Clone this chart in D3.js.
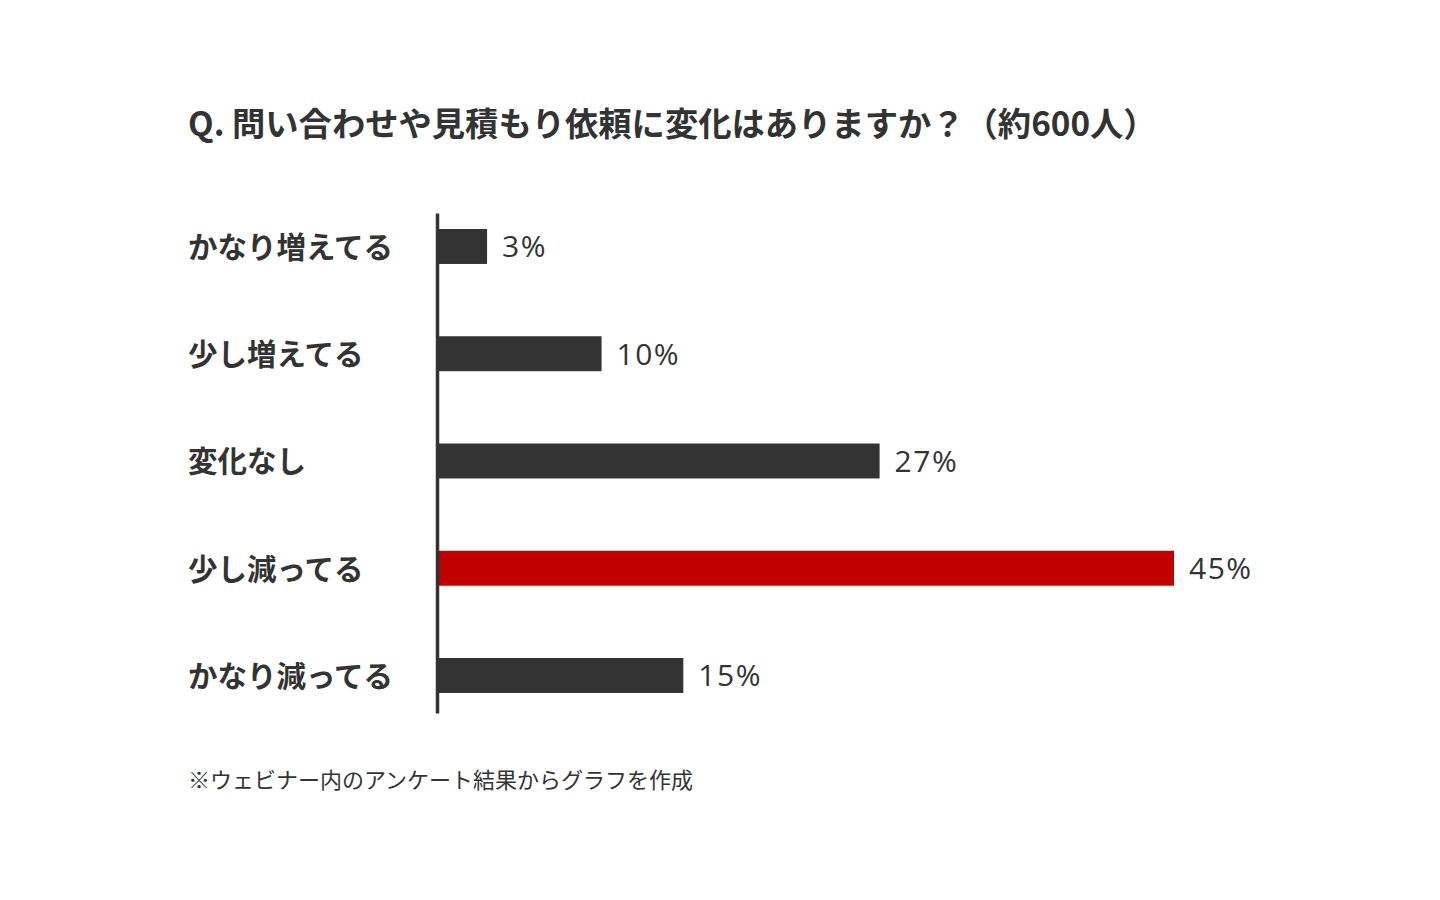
<!DOCTYPE html>
<html>
<head>
<meta charset="utf-8">
<script src="https://cdn.jsdelivr.net/npm/d3@7"></script>
<style>
  body { margin: 0; background: #fff; }
  svg { display: block; }
</style>
</head>
<body>
<div id="chart"></div>
<script>
// data
var title = "Q. 問い合わせや見積もり依頼に変化はありますか？（約600人）";
var categories = ["かなり増えてる", "少し増えてる", "変化なし", "少し減ってる", "かなり減ってる"];
var values = [3, 10, 27, 45, 15];
var highlight = "少し減ってる";
var note = "※ウェビナー内のアンケート結果からグラフを作成";

var W = 1440, H = 900;
var dark = "#333333", red = "#c00000";

var svg = d3.select("#chart").append("svg")
    .attr("width", W).attr("height", H);

var x = d3.scaleLinear().domain([0, 45]).range([438, 1174]);
var y = d3.scaleBand().domain(categories).range([213, 713])
    .paddingInner(0.674).paddingOuter(0.168).align(0.444);

// title
svg.append("text")
    .attr("x", 188).attr("y", 121)
    .attr("dominant-baseline", "central")
    .style("font-family", "'Noto Sans CJK JP', sans-serif")
    .style("font-weight", "bold")
    .style("font-size", "33.3px")
    .style("fill", dark)
    .text(title);

var data = categories.map(function (c, i) { return {cat: c, val: values[i]}; });

// bars
svg.selectAll("rect.bar").data(data).enter().append("rect")
    .attr("class", "bar")
    .attr("x", x(0))
    .attr("y", function (d) { return y(d.cat); })
    .attr("width", function (d) { return x(d.val) - x(0); })
    .attr("height", y.bandwidth())
    .style("fill", function (d) { return d.cat === highlight ? red : dark; });

// value labels
svg.selectAll("text.val").data(data).enter().append("text")
    .attr("class", "val")
    .attr("x", function (d) { return x(d.val) + 15; })
    .attr("y", function (d) { return y(d.cat) + y.bandwidth() / 2 - 0.5; })
    .attr("dominant-baseline", "central")
    .style("font-family", "'Open Sans', sans-serif")
    .style("font-size", "30px")
    .style("letter-spacing", "1.5px")
    .style("fill", dark)
    .text(function (d) { return d.val + "%"; });

// category labels
svg.selectAll("text.cat").data(data).enter().append("text")
    .attr("class", "cat")
    .attr("x", 188)
    .attr("y", function (d) { return y(d.cat) + y.bandwidth() / 2 - 1.5; })
    .attr("dominant-baseline", "central")
    .style("font-family", "'Noto Sans CJK JP', sans-serif")
    .style("font-weight", "bold")
    .style("font-size", "29.5px")
    .style("fill", dark)
    .text(function (d) { return d.cat; });

// axis line
var yAxis = svg.append("g")
    .attr("transform", "translate(" + 437 + ",0)")
    .call(d3.axisLeft(y).tickSize(0).tickFormat(""));
yAxis.select(".domain")
    .attr("stroke", dark)
    .attr("stroke-width", 3.5);

// footnote
svg.append("text")
    .attr("x", 188).attr("y", 778)
    .attr("dominant-baseline", "central")
    .style("font-family", "'Noto Sans CJK JP', sans-serif")
    .style("font-size", "22px")
    .style("fill", dark)
    .text(note);
</script>
</body>
</html>
